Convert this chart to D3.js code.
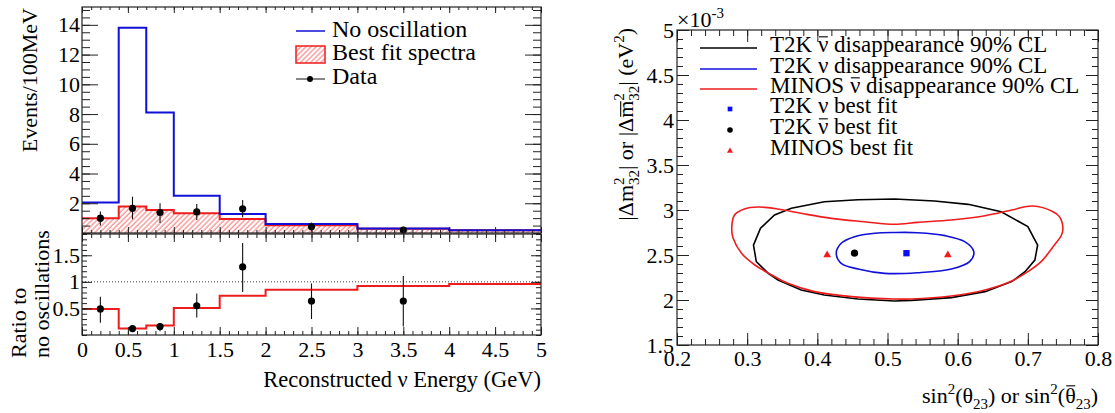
<!DOCTYPE html>
<html>
<head>
<meta charset="utf-8">
<script src="https://cdn.jsdelivr.net/npm/d3@7"></script>
<style>
body { margin: 0; background: #fff; }
svg text { font-family: "Liberation Serif", "Times New Roman", serif; fill: #000; }
</style>
</head>
<body>
<script>
// Energy spectrum (events / 100 MeV)
var binEdges = [0, 0.4, 0.7, 1.0, 1.5, 2.0, 3.0, 4.0, 5.0];
var noOsc = [2.05, 13.8, 8.1, 2.5, 1.28, 0.6, 0.3, 0.19];
var bestFit = [1.0, 1.78, 1.55, 1.33, 0.94, 0.52, 0.28, 0.18];
var dataE = [0.2, 0.55, 0.85, 1.25, 1.75, 2.5, 3.5];
var dataN = [1.0, 1.66, 1.38, 1.42, 1.63, 0.42, 0.2];
var dataNLo = [0.5, 0.92, 0.67, 0.87, 1.06, 0.12, 0.0];
var dataNHi = [1.45, 2.44, 2.0, 1.95, 2.22, 0.7, 0.42];

// Ratio to no oscillations
var ratioFit = [0.49, 0.12, 0.18, 0.51, 0.74, 0.85, 0.92, 0.96];
var ratioData = [0.49, 0.12, 0.16, 0.55, 1.28, 0.64, 0.64];
var ratioLo = [0.23, 0.06, 0.07, 0.33, 0.81, 0.30, 0.16];
var ratioHi = [0.72, 0.17, 0.21, 0.78, 1.73, 0.97, 1.11];

// 90% CL contours (sin2 theta23, dm2 in 1e-3 eV2)
var t2kAnti = [[0.309,2.61],[0.319,2.797],[0.339,2.944],[0.363,3.019],[0.410,3.092],[0.458,3.114],[0.510,3.122],[0.567,3.10],[0.615,3.063],[0.662,2.981],[0.700,2.815],[0.714,2.611],[0.710,2.444],[0.696,2.315],[0.677,2.204],[0.639,2.093],[0.591,2.026],[0.534,1.996],[0.510,1.989],[0.458,2.011],[0.410,2.056],[0.377,2.111],[0.344,2.222],[0.330,2.297],[0.313,2.426]];
var t2kNu = [[0.427,2.52],[0.434,2.63],[0.453,2.703],[0.482,2.741],[0.510,2.750],[0.543,2.748],[0.582,2.715],[0.610,2.648],[0.623,2.537],[0.617,2.426],[0.591,2.344],[0.543,2.303],[0.496,2.296],[0.458,2.344],[0.434,2.408]];
var minosAnti = [[0.278,2.797],[0.282,2.944],[0.296,3.011],[0.315,3.033],[0.344,3.011],[0.377,2.963],[0.420,2.907],[0.467,2.870],[0.510,2.841],[0.543,2.863],[0.591,2.889],[0.639,2.937],[0.677,3.0],[0.707,3.044],[0.736,2.981],[0.745,2.926],[0.750,2.797],[0.748,2.722],[0.736,2.592],[0.719,2.426],[0.700,2.315],[0.677,2.211],[0.639,2.111],[0.591,2.044],[0.534,2.011],[0.510,2.011],[0.449,2.037],[0.396,2.093],[0.358,2.185],[0.335,2.278],[0.311,2.389],[0.292,2.519],[0.280,2.686]];
var fitNu = [0.527, 2.52];
var fitAnti = [0.453, 2.52];
var fitMinos = [[0.414, 2.50], [0.586, 2.50]];

// Tick labels
var eTicks = [0, 0.5, 1, 1.5, 2, 2.5, 3, 3.5, 4, 4.5, 5];
var evTicks = [2, 4, 6, 8, 10, 12, 14];
var ratioTicks = [0.5, 1, 1.5];
var s2Ticks = [0.2, 0.3, 0.4, 0.5, 0.6, 0.7, 0.8];
var dmTicks = [1.5, 2, 2.5, 3, 3.5, 4, 4.5, 5];

var serif = '"Liberation Serif", "Times New Roman", serif';
var blue = '#1010d8', red = '#ee1c1c';

var svg = d3.select('body').append('svg')
    .attr('width', 1115).attr('height', 413);

// hatch pattern for best fit
svg.append('defs').append('pattern')
    .attr('id', 'hatch')
    .attr('patternUnits', 'userSpaceOnUse')
    .attr('width', 3.6).attr('height', 3.6)
    .attr('patternTransform', 'rotate(45)')
  .append('line')
    .attr('x1', 1).attr('y1', 0).attr('x2', 1).attr('y2', 3.6)
    .attr('stroke', '#f04848').attr('stroke-width', 0.8);

// Scales
var xE = d3.scaleLinear().domain([0, 5]).range([82, 541]);
var yEv = d3.scaleLinear().domain([0, 15.2]).range([233, 7]);
var yR = d3.scaleLinear().domain([0, 1.9]).range([335, 234]);
var xS = d3.scaleLinear().domain([0.2, 0.8]).range([677, 1098]);
var yM = d3.scaleLinear().domain([1.5, 5]).range([345, 30]);

function minorTicks(lo, hi, step) {
    return d3.range(lo, hi + step / 2, step).map(function(v) { return +v.toFixed(3); });
}

// one set of ticks (major or minor) pointing inward
function ticks(axisFn, scale, vals, len, tr, labels, pad) {
    var ax = axisFn(scale).tickValues(vals).tickSize(-len).tickPadding(pad || 3);
    ax.tickFormat(labels ? d3.format('') : '');
    var g = svg.append('g').attr('transform', tr).call(ax);
    g.attr('font-family', serif).attr('font-size', 22);
    g.select('.domain').remove();
    g.selectAll('line').attr('stroke', '#222');
    g.selectAll('text').style('font-family', serif).style('font-size', '22px');
    return g;
}

function frame(x, y) {
    svg.append('rect')
        .attr('x', x.range()[0]).attr('y', y.range()[1])
        .attr('width', x.range()[1] - x.range()[0])
        .attr('height', y.range()[0] - y.range()[1])
        .attr('fill', 'none').attr('stroke', '#222').attr('stroke-width', 1.2);
}

// build step outline points
function steps(vals) {
    var pts = [];
    vals.forEach(function(v, i) {
        pts.push([binEdges[i], v]);
        pts.push([binEdges[i + 1], v]);
    });
    return pts;
}

// text with sub/superscripts: parts = [text, 'sup'|'sub'|'', dx, barHeight]
// bars (overlines) are drawn as lines in the same group as the text
function rich(parent, base, parts, attrs) {
    var t = parent.append('text').style('font-size', base + 'px');
    Object.keys(attrs || {}).forEach(function(k) { t.attr(k, attrs[k]); });
    var shift = 0, bars = [];
    parts.forEach(function(p) {
        var target = p[1] === 'sup' ? -0.42 * base : p[1] === 'sub' ? 0.28 * base : 0;
        var ts = t.append('tspan').attr('dy', target - shift).text(p[0]);
        if (p[1]) ts.style('font-size', (base * 0.68) + 'px');
        if (p[2]) ts.attr('dx', p[2]);
        if (p[3]) bars.push([ts.node(), p[3]]);
        shift = target;
    });
    bars.forEach(function(b) {
        var n = b[0].getNumberOfChars();
        var a = b[0].getExtentOfChar(0), z = b[0].getExtentOfChar(n - 1);
        var by = b[0].getStartPositionOfChar(0).y - b[1] * base;
        parent.append('line')
            .attr('x1', a.x + 1).attr('x2', z.x + z.width - 0.5)
            .attr('y1', by).attr('y2', by)
            .attr('stroke', '#000').attr('stroke-width', 1.1);
    });
    return t;
}

// ---------- Top left: spectrum ----------
var area = d3.area()
    .x(function(d) { return xE(d[0]); })
    .y0(yEv(0))
    .y1(function(d) { return yEv(d[1]); });
var line = function(x, y) {
    return d3.line().x(function(d) { return x(d[0]); }).y(function(d) { return y(d[1]); });
};

svg.append('path').attr('d', area(steps(bestFit))).attr('fill', 'url(#hatch)');
svg.append('path').attr('d', line(xE, yEv)(steps(bestFit)))
    .attr('fill', 'none').attr('stroke', red).attr('stroke-width', 2);
svg.append('path').attr('d', line(xE, yEv)(steps(noOsc)))
    .attr('fill', 'none').attr('stroke', blue).attr('stroke-width', 2);

dataE.forEach(function(e, i) {
    svg.append('line')
        .attr('x1', xE(e)).attr('x2', xE(e))
        .attr('y1', yEv(dataNLo[i])).attr('y2', yEv(dataNHi[i]))
        .attr('stroke', '#111').attr('stroke-width', 1.1);
    svg.append('circle').attr('cx', xE(e)).attr('cy', yEv(dataN[i])).attr('r', 3.6).attr('fill', '#000');
});

var eMinor = minorTicks(0, 5, 0.1);
ticks(d3.axisLeft, yEv, evTicks, 16, 'translate(82,0)', true, 2);
ticks(d3.axisLeft, yEv, minorTicks(0, 15, 0.5), 8, 'translate(82,0)', false);
ticks(d3.axisRight, yEv, evTicks, 16, 'translate(541,0)', false);
ticks(d3.axisRight, yEv, minorTicks(0, 15, 0.5), 8, 'translate(541,0)', false);
ticks(d3.axisTop, xE, eTicks, 6, 'translate(0,7)', false);
ticks(d3.axisTop, xE, eMinor, 3, 'translate(0,7)', false);
ticks(d3.axisBottom, xE, eTicks, 6, 'translate(0,233)', false);
ticks(d3.axisBottom, xE, eMinor, 3, 'translate(0,233)', false);
frame(xE, yEv);

// legend
var lg = svg.append('g').style('font-size', '24px');
lg.append('line').attr('x1', 296).attr('x2', 325).attr('y1', 31).attr('y2', 31)
    .attr('stroke', blue).attr('stroke-width', 1.5);
lg.append('text').attr('x', 332).attr('y', 37).text('No oscillation');
lg.append('rect').attr('x', 296).attr('y', 46).attr('width', 29).attr('height', 17)
    .attr('fill', 'url(#hatch)').attr('stroke', red).attr('stroke-width', 1.5);
lg.append('text').attr('x', 332).attr('y', 60).text('Best fit spectra');
lg.append('line').attr('x1', 296).attr('x2', 325).attr('y1', 79).attr('y2', 79)
    .attr('stroke', '#111').attr('stroke-width', 1);
lg.append('circle').attr('cx', 310).attr('cy', 79).attr('r', 3).attr('fill', '#000');
lg.append('text').attr('x', 332).attr('y', 84).text('Data');

svg.append('text')
    .attr('transform', 'translate(37,8) rotate(-90)')
    .attr('text-anchor', 'end').style('font-size', '22px')
    .text('Events/100MeV');

// ---------- Bottom left: ratio ----------
svg.append('line')
    .attr('x1', xE(0)).attr('x2', xE(5)).attr('y1', yR(1)).attr('y2', yR(1))
    .attr('stroke', '#444').attr('stroke-width', 1).attr('stroke-dasharray', '1,2');
svg.append('path').attr('d', line(xE, yR)(steps(ratioFit)))
    .attr('fill', 'none').attr('stroke', red).attr('stroke-width', 2);
dataE.forEach(function(e, i) {
    svg.append('line')
        .attr('x1', xE(e)).attr('x2', xE(e))
        .attr('y1', yR(ratioLo[i])).attr('y2', yR(ratioHi[i]))
        .attr('stroke', '#111').attr('stroke-width', 1.1);
    svg.append('circle').attr('cx', xE(e)).attr('cy', yR(ratioData[i])).attr('r', 3.6).attr('fill', '#000');
});

var rMinor = minorTicks(0, 1.9, 0.1);
ticks(d3.axisLeft, yR, ratioTicks, 10, 'translate(82,0)', true, 2);
ticks(d3.axisLeft, yR, rMinor, 5, 'translate(82,0)', false);
ticks(d3.axisRight, yR, ratioTicks, 10, 'translate(541,0)', false);
ticks(d3.axisRight, yR, rMinor, 5, 'translate(541,0)', false);
ticks(d3.axisTop, xE, eTicks, 8, 'translate(0,234)', false);
ticks(d3.axisTop, xE, eMinor, 4, 'translate(0,234)', false);
ticks(d3.axisBottom, xE, eTicks, 8, 'translate(0,335)', true, 6);
ticks(d3.axisBottom, xE, eMinor, 4, 'translate(0,335)', false);
frame(xE, yR);

svg.append('text')
    .attr('transform', 'translate(26,358) rotate(-90)')
    .style('font-size', '22px').text('Ratio to');
svg.append('text')
    .attr('transform', 'translate(49,358) rotate(-90)')
    .style('font-size', '22px').text('no oscillations');

svg.append('text').attr('x', 541).attr('y', 387)
    .attr('text-anchor', 'end').style('font-size', '22.5px')
    .text('Reconstructed \u03bd Energy (GeV)');

// ---------- Right: contours ----------
var cont = d3.line().x(function(d) { return xS(d[0]); }).y(function(d) { return yM(d[1]); });

svg.append('path').attr('d', cont.curve(d3.curveLinearClosed)(t2kAnti))
    .attr('fill', 'none').attr('stroke', '#000').attr('stroke-width', 1.6);
svg.append('path').attr('d', cont.curve(d3.curveCatmullRomClosed)(minosAnti))
    .attr('fill', 'none').attr('stroke', red).attr('stroke-width', 1.6);
svg.append('path').attr('d', cont.curve(d3.curveCatmullRomClosed)(t2kNu))
    .attr('fill', 'none').attr('stroke', blue).attr('stroke-width', 1.6);

var sq = d3.symbol().type(d3.symbolSquare).size(40);
var tri = d3.symbol().type(d3.symbolTriangle).size(26);
svg.append('path').attr('d', sq()).attr('fill', '#0a0aff')
    .attr('transform', 'translate(' + xS(fitNu[0]) + ',' + yM(fitNu[1]) + ')');
svg.append('circle').attr('cx', xS(fitAnti[0])).attr('cy', yM(fitAnti[1])).attr('r', 3.6).attr('fill', '#000');
fitMinos.forEach(function(p) {
    svg.append('path').attr('d', tri()).attr('fill', red)
        .attr('transform', 'translate(' + xS(p[0]) + ',' + yM(p[1]) + ')');
});

var sMinor = minorTicks(0.2, 0.8, 0.02);
var mMinor = minorTicks(1.5, 5, 0.1);
ticks(d3.axisBottom, xS, s2Ticks, 12, 'translate(0,345)', true, 5).selectAll('text')
    .text(function(d) { return d3.format('.1f')(d); });
ticks(d3.axisBottom, xS, sMinor, 6, 'translate(0,345)', false);
ticks(d3.axisTop, xS, s2Ticks, 12, 'translate(0,30)', false);
ticks(d3.axisTop, xS, sMinor, 6, 'translate(0,30)', false);
ticks(d3.axisLeft, yM, dmTicks, 12, 'translate(677,0)', true, 3);
ticks(d3.axisLeft, yM, mMinor, 6, 'translate(677,0)', false);
ticks(d3.axisRight, yM, dmTicks, 12, 'translate(1098,0)', false);
ticks(d3.axisRight, yM, mMinor, 6, 'translate(1098,0)', false);
frame(xS, yM);

// exponent
rich(svg, 22, [['\u00d710', ''], ['-3', 'sup']], {x: 677, y: 27});

// legend
var rl = svg.append('g');
var rows = [
    {y: 48, parts: [['T2K ', ''], ['\u03bd', '', 0, 0.66], [' disappearance 90% CL', '']], line: '#000'},
    {y: 69, parts: [['T2K \u03bd disappearance 90% CL', '']], line: blue},
    {y: 89, parts: [['MINOS ', ''], ['\u03bd', '', 0, 0.66], [' disappearance 90% CL', '']], line: red},
    {y: 109, parts: [['T2K \u03bd best fit', '']], mark: 'sq'},
    {y: 130, parts: [['T2K ', ''], ['\u03bd', '', 0, 0.66], [' best fit', '']], mark: 'dot'},
    {y: 151, parts: [['MINOS best fit', '']], mark: 'tri'}
];
rows.forEach(function(r) {
    if (r.line) {
        rl.append('line').attr('x1', 700).attr('x2', 757).attr('y1', r.y).attr('y2', r.y)
            .attr('stroke', r.line).attr('stroke-width', 1.6);
    }
    if (r.mark === 'sq') {
        rl.append('path').attr('d', d3.symbol().type(d3.symbolSquare).size(22)())
            .attr('fill', '#0a0aff').attr('transform', 'translate(730,' + r.y + ')');
    } else if (r.mark === 'dot') {
        rl.append('circle').attr('cx', 730).attr('cy', r.y).attr('r', 2.8).attr('fill', '#000');
    } else if (r.mark === 'tri') {
        rl.append('path').attr('d', d3.symbol().type(d3.symbolTriangle).size(16)())
            .attr('fill', red).attr('transform', 'translate(730,' + r.y + ')');
    }
    rich(rl, 23, r.parts, {x: 770, y: r.y + 4});
});

// axis titles
rich(svg, 22, [['sin', ''], ['2', 'sup'], ['(\u03b8', ''], ['23', 'sub'], [') or sin', ''], ['2', 'sup'],
    ['(', ''], ['\u03b8', '', 0, 0.78], ['23', 'sub'], [')', '']],
    {x: 1098, y: 403, 'text-anchor': 'end'});

var yg = svg.append('g').attr('transform', 'translate(633,28) rotate(-90)');
rich(yg, 22, [['|\u0394m', ''], ['2', 'sup'], ['32', 'sub', -7.5], ['| or |\u0394', ''], ['m', '', 0, 0.56],
    ['2', 'sup'], ['32', 'sub', -7.5], ['| (eV', ''], ['2', 'sup'], [')', '']],
    {'text-anchor': 'end'});
</script>
</body>
</html>
